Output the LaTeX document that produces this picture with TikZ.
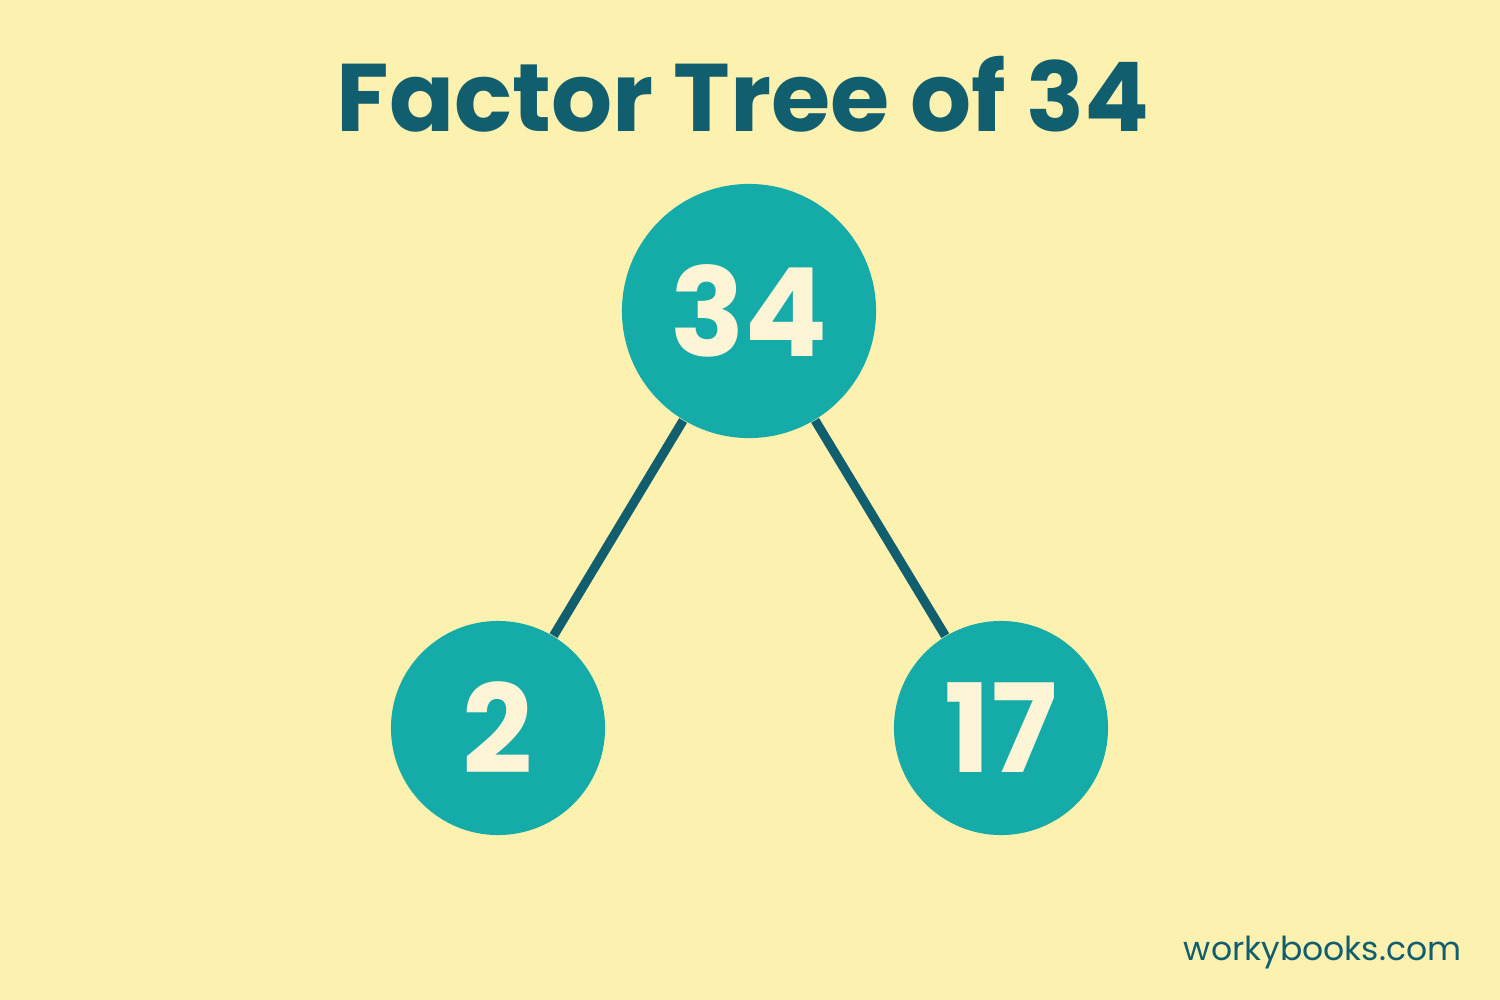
\documentclass[tikz,border=0pt]{standalone}
\usepackage{fontspec}
\setmainfont{Poppins}
\definecolor{fondjaune}{HTML}{FDF1B0}
\definecolor{tealfonce}{HTML}{105E6E}
\definecolor{tealclair}{HTML}{14ABA9}
\definecolor{creme}{HTML}{FDF5D5}
\tikzset{
  facteur/.style={circle, fill=tealclair, text=creme, inner sep=0pt, font=\fontsize{35}{40}\selectfont\bfseries},
  branche/.style={line width=2.6pt, tealfonce}
}
\begin{document}
\begin{tikzpicture}[x=0.01cm, y=-0.01cm]

% Fond
\fill[fondjaune] (0,0) rectangle (1500,1000);

% Titre
\node[text=tealfonce, font=\fontsize{27.3}{30}\selectfont\bfseries] (titre) at (743,94) {Factor Tree of 34};

% Noeuds de l'arbre
\node[facteur, minimum size=2.54cm] (n34) at (749,311) {34};
\node[facteur, minimum size=2.14cm] (n2) at (498,728) {2};
\node[facteur, minimum size=2.14cm] (n17) at (1001,728) {17};

% Branches
\draw[branche] (n34) -- (n2);
\draw[branche] (n34) -- (n17);

% Site
\node[anchor=base east, inner sep=0pt, text=tealfonce, font=\fontsize{9.4}{12}\selectfont] (site) at (1462,960) {workybooks.com};

\end{tikzpicture}
\end{document}
